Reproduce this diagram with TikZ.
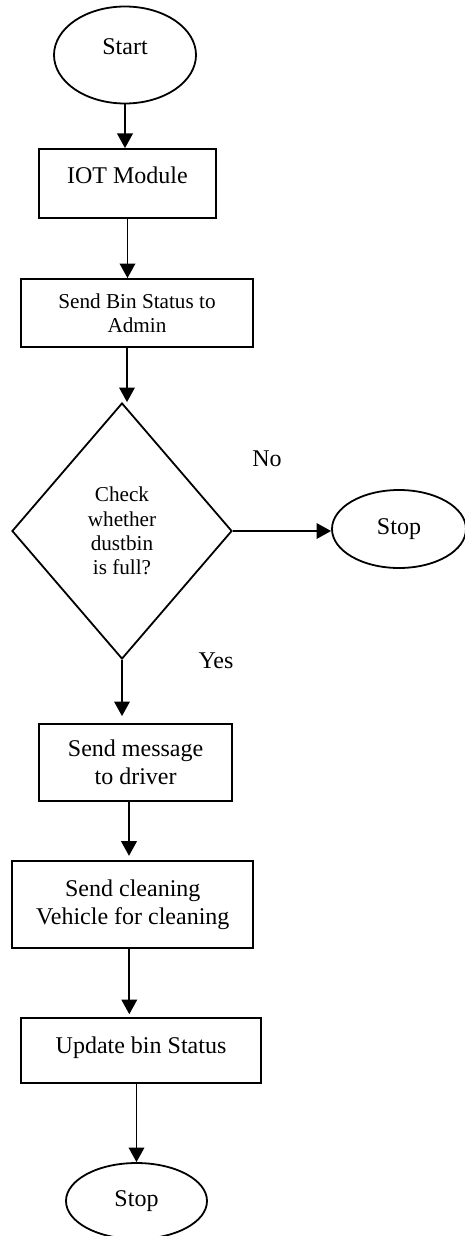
\documentclass[tikz,border=0pt]{standalone}
\usepackage{fontspec}
\setmainfont{Liberation Serif}
\usetikzlibrary{shapes.geometric,arrows.meta}
\begin{document}
\begin{tikzpicture}[x=0.5pt,y=-0.5pt,
  every node/.style={font=\fontsize{12}{13.7}\selectfont, inner sep=0pt},
  shp/.style={draw, line width=0.9pt},
  proc/.style={shp, rectangle, align=center},
  term/.style={shp, ellipse},
  small/.style={font=\fontsize{10.6}{12.2}\selectfont},
  arr/.style={line width=0.9pt, -{Triangle[width=7.8pt,length=7.3pt]}},
]
\useasboundingbox (0,0) rectangle (465,1236);

% main column
\node[term, minimum width=71pt, minimum height=48.5pt, text depth=8pt] (start) at (125,55) {Start};
\node[proc, minimum width=88.5pt, minimum height=34.5pt, text depth=8.5pt] (iot) at (127.5,183.5) {IOT Module};
\node[proc, small, minimum width=116pt, minimum height=34pt] (status) at (137,313) {Send Bin Status to\\Admin};
\node[shp, diamond, small, align=center, minimum width=110pt, minimum height=128pt] (check) at (122,531) {Check\\whether\\dustbin\\is full?};
\node[term, minimum width=67pt, minimum height=39pt] (stopa) at (399,529) {Stop};
\node (no) at (267,459) {No};
\node (yes) at (216,661) {Yes};
\node[proc, minimum width=96.5pt, minimum height=38.3pt] (msg) at (135.6,762.3) {Send message\\to driver};
\node[proc, minimum width=120.5pt, minimum height=43.5pt] (clean) at (132.8,904.8) {Send cleaning\\Vehicle for cleaning};
\node[proc, minimum width=120.3pt, minimum height=32.5pt, text depth=5.8pt] (update) at (141,1050.8) {Update bin Status};
\node[term, minimum width=70.5pt, minimum height=38pt] (stopb) at (136.5,1201) {Stop};

% connectors
\draw[arr] (start.south) -- (start.south |- iot.north);
\draw[arr] (iot.south) -- (iot.south |- status.north);
\draw[arr] ([xshift=2.5pt]check.north |- status.south) -- ([xshift=2.5pt]check.north);
\draw[arr] (check.east) -- (check.east -| stopa.west);
\draw[arr, shorten >=3.5pt] (check.south) -- (check.south |- msg.north);
\draw[arr, shorten >=2.3pt] ([xshift=-1.9pt]clean.north |- msg.south) -- ([xshift=-1.9pt]clean.north);
\draw[arr, shorten >=1.6pt] ([xshift=-1.75pt]clean.south) -- ([xshift=-1.75pt]clean.south |- update.north);
\draw[arr] (stopb.north |- update.south) -- (stopb.north);
\end{tikzpicture}
\end{document}
